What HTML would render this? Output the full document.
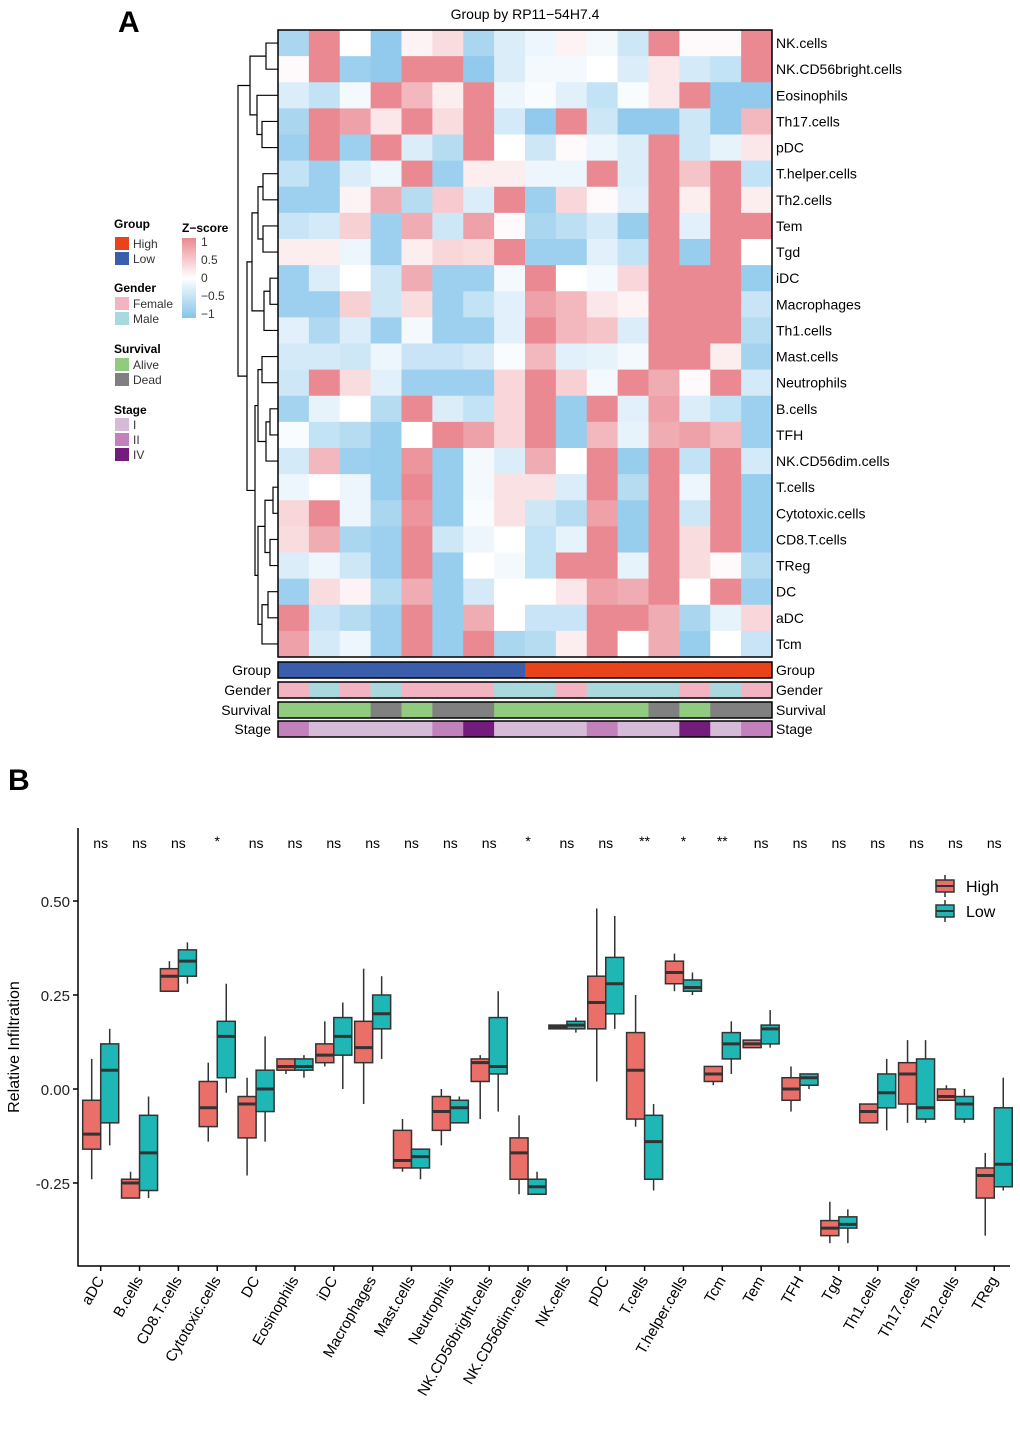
<!DOCTYPE html>
<html><head><meta charset="utf-8"><style>
body{margin:0;background:#fff;}
svg{display:block;font-family:"Liberation Sans",Arial,sans-serif;}
</style></head><body>
<svg id="fig" width="1020" height="1433" viewBox="0 0 1020 1433">
<text x="118" y="32" font-size="30" font-weight="bold">A</text>
<text x="525" y="19" font-size="14" text-anchor="middle">Group by RP11−54H7.4</text>
<g id="heat"></g>
<g id="dendro"></g>
<g id="annot"></g>
<g id="legendA"></g>
<text x="8" y="790" font-size="30" font-weight="bold">B</text>
<g id="boxplot"></g>
</svg>
<script>
const rowNames=["NK.cells","NK.CD56bright.cells","Eosinophils","Th17.cells","pDC","T.helper.cells","Th2.cells","Tem","Tgd","iDC","Macrophages","Th1.cells","Mast.cells","Neutrophils","B.cells","TFH","NK.CD56dim.cells","T.cells","Cytotoxic.cells","CD8.T.cells","TReg","DC","aDC","Tcm"];
const zscores=[
[-0.7,1,0,-0.9,0.1,0.3,-0.7,-0.3,-0.15,0.1,-0.1,-0.4,1,0.05,0.05,1],
[0.05,1,-0.8,-0.9,1,1,-0.9,-0.3,-0.1,-0.1,0,-0.3,0.2,-0.35,-0.5,1],
[-0.3,-0.5,-0.1,1,0.6,0.15,1,-0.15,-0.05,-0.25,-0.5,-0.05,0.2,1,-0.9,-0.9],
[-0.7,1,0.8,0.2,1,0.3,1,-0.35,-0.9,1,-0.4,-0.9,-0.9,-0.4,-0.9,0.6],
[-0.8,1,-0.8,1,-0.3,-0.6,1,0,-0.4,0.05,-0.15,-0.3,1,-0.4,-0.2,0.2],
[-0.5,-0.8,-0.3,-0.15,1,-0.8,0.15,0.15,-0.15,-0.15,1,-0.3,1,0.5,1,-0.5],
[-0.8,-0.8,0.1,0.7,-0.6,0.45,-0.3,1,-0.8,0.35,0.05,-0.25,1,0.15,1,0.15],
[-0.45,-0.35,0.4,-0.8,0.7,-0.4,0.8,0.05,-0.7,-0.55,-0.35,-0.85,1,-0.25,1,1],
[0.15,0.15,-0.15,-0.8,0.15,0.35,0.3,1,-0.8,-0.8,-0.25,-0.5,1,-0.85,1,0],
[-0.8,-0.3,0,-0.4,0.7,-0.8,-0.8,-0.1,1,0,-0.1,0.35,1,1,1,-0.85],
[-0.8,-0.8,0.4,-0.4,0.3,-0.8,-0.5,-0.25,0.8,0.6,0.2,0.1,1,1,1,-0.45],
[-0.25,-0.65,-0.3,-0.8,-0.1,-0.8,-0.8,-0.25,1,0.6,0.5,-0.3,1,1,1,-0.6],
[-0.35,-0.35,-0.4,-0.15,-0.45,-0.45,-0.35,-0.05,0.6,-0.25,-0.2,-0.1,1,1,0.15,-0.75],
[-0.4,1,0.3,-0.25,-0.8,-0.8,-0.8,0.35,1,0.4,-0.1,1,0.7,0.05,1,-0.35],
[-0.75,-0.2,0,-0.6,1,-0.3,-0.5,0.35,1,-0.85,1,-0.25,0.8,-0.3,-0.5,-0.8],
[-0.05,-0.5,-0.6,-0.85,0,1,0.8,0.35,1,-0.85,0.6,-0.2,0.7,0.8,0.6,-0.8],
[-0.35,0.6,-0.8,-0.85,0.9,-0.85,-0.1,-0.3,0.7,0,1,-0.85,1,-0.5,1,-0.35],
[-0.15,0,-0.15,-0.85,1,-0.85,-0.1,0.25,0.25,-0.3,1,-0.6,1,-0.15,1,-0.85],
[0.35,1,-0.15,-0.7,0.9,-0.85,-0.05,0.25,-0.4,-0.6,0.8,-0.85,1,-0.4,1,-0.85],
[0.3,0.7,-0.7,-0.8,1,-0.4,-0.15,0,-0.5,-0.2,1,-0.85,1,0.3,1,-0.85],
[-0.3,-0.15,-0.4,-0.8,1,-0.85,0,-0.1,-0.5,1,1,-0.2,1,0.3,0.05,-0.6],
[-0.8,0.3,0.1,-0.6,0.7,-0.85,-0.35,0,0,0.2,0.8,0.7,1,0,1,-0.8],
[1,-0.45,-0.6,-0.8,1,-0.85,0.7,0,-0.45,-0.45,1,1,0.7,-0.7,-0.2,0.35],
[0.8,-0.35,-0.15,-0.8,1,-0.85,1,-0.7,-0.6,0.15,1,0,0.7,-0.85,0,-0.45]];
const groupAnn=["Low","Low","Low","Low","Low","Low","Low","Low","High","High","High","High","High","High","High","High"];
const genderAnn=["Female","Male","Female","Male","Female","Female","Female","Male","Male","Female","Male","Male","Male","Female","Male","Female"];
const survivalAnn=["Alive","Alive","Alive","Dead","Alive","Dead","Dead","Alive","Alive","Alive","Alive","Alive","Dead","Alive","Dead","Dead"];
const stageAnn=["II","I","I","I","I","II","IV","I","I","I","II","I","I","IV","I","II"];

const NS="http://www.w3.org/2000/svg";
function mk(tag,attrs,parent,txt){const e=document.createElementNS(NS,tag);for(const k in attrs)e.setAttribute(k,attrs[k]);if(txt!==undefined)e.textContent=txt;parent.appendChild(e);return e;}
function zcol(v){v=Math.max(-1,Math.min(1,v));let c=v>=0?[234,137,146]:[133,196,234];const t=Math.abs(v);
return `rgb(${Math.round(255+(c[0]-255)*t)},${Math.round(255+(c[1]-255)*t)},${Math.round(255+(c[2]-255)*t)})`;}
const HX0=278,HX1=772,HY0=30,HY1=657;
const cw=(HX1-HX0)/16,rh=(HY1-HY0)/rowNames.length;
const colX=j=>HX0+j*cw, rowY=i=>HY0+i*rh;
const heat=document.getElementById('heat');
zscores.forEach((row,i)=>{row.forEach((v,j)=>{
 const r=mk('rect',{x:colX(j),y:rowY(i),width:cw+0.5,height:rh+0.5,fill:zcol(v)},heat);
 
 
});
 const t=mk('text',{x:776,y:rowY(i)+rh/2+5,'font-size':14},heat,rowNames[i]);
 
 
});
mk('rect',{x:HX0,y:HY0,width:HX1-HX0,height:HY1-HY0,fill:'none',stroke:'#000','stroke-width':1.5},heat);

// dendrogram
const tree=[[[0,1,266],[2,[3,4,262],257],250],[[[[5,6,263],[7,8,263],258],[[9,10,270],11,264],252],[[[12,13,262],[[14,15,270],16,266],258],[[[17,18,273],[19,20,270],265],[[21,22,268],23,262],258],255],247],238];
const dg=document.getElementById('dendro');
function draw(n){if(typeof n==='number')return{x:HX0,y:rowY(n)+rh/2};
 const a=draw(n[0]),b=draw(n[1]),x=n[2];
 mk('path',{d:`M${a.x},${a.y}H${x}V${b.y}H${b.x}`,fill:'none',stroke:'#000','stroke-width':1.2},dg);
 return{x:x,y:(a.y+b.y)/2};}
draw(tree);

// annotations
const annColors={High:'#E8431B',Low:'#3A5EAB',Female:'#F2B4C1',Male:'#A9D9DC',Alive:'#90CB7F',Dead:'#808080',I:'#D6BBD8',II:'#C281BA',IV:'#741C7B'};
const annRows=[["Group",groupAnn,662],["Gender",genderAnn,682],["Survival",survivalAnn,702],["Stage",stageAnn,721]];
const an=document.getElementById('annot');
annRows.forEach(([nm,arr,y])=>{
 arr.forEach((v,j)=>{const r=mk('rect',{x:colX(j),y:y,width:cw+0.5,height:16,fill:annColors[v]},an);
  
  });
 mk('rect',{x:HX0,y:y,width:HX1-HX0,height:16,fill:'none',stroke:'#000','stroke-width':1.5},an);
 mk('text',{x:271,y:y+13,'font-size':14,'text-anchor':'end'},an,nm);
 mk('text',{x:776,y:y+13,'font-size':14},an,nm);
});

// legend A
const lg=document.getElementById('legendA');
const legSpec=[["Group",228,[["High",247],["Low",262]]],["Gender",292,[["Female",307],["Male",322]]],["Survival",353,[["Alive",368],["Dead",383]]],["Stage",414,[["I",428],["II",443],["IV",458]]]];
legSpec.forEach(([t,y,items])=>{mk('text',{x:114,y:y,'font-size':12,'font-weight':'bold'},lg,t);
 items.forEach(([k,yy])=>{mk('rect',{x:115,y:yy-10,width:14,height:13,fill:annColors[k]},lg);mk('text',{x:133,y:yy+1,'font-size':12,fill:'#333'},lg,k);});});
const defs=mk('defs',{},lg);const gr=mk('linearGradient',{id:'zg',x1:0,y1:0,x2:0,y2:1},defs);
mk('stop',{offset:'0',"stop-color":zcol(1)},gr);mk('stop',{offset:'0.5',"stop-color":'#fff'},gr);mk('stop',{offset:'1',"stop-color":zcol(-1)},gr);
mk('text',{x:182,y:232,'font-size':12,'font-weight':'bold'},lg,'Z−score');
mk('rect',{x:182,y:238,width:14,height:80,fill:'url(#zg)'},lg);
[["1",242],["0.5",260],["0",278],["−0.5",296],["−1",314]].forEach(([t,y])=>mk('text',{x:201,y:y+4,'font-size':12,fill:'#333'},lg,t));

// boxplot B
const cats=["aDC","B.cells","CD8.T.cells","Cytotoxic.cells","DC","Eosinophils","iDC","Macrophages","Mast.cells","Neutrophils","NK.CD56bright.cells","NK.CD56dim.cells","NK.cells","pDC","T.cells","T.helper.cells","Tcm","Tem","TFH","Tgd","Th1.cells","Th17.cells","Th2.cells","TReg"];
const sigLabels=["ns","ns","ns","*","ns","ns","ns","ns","ns","ns","ns","*","ns","ns","**","*","**","ns","ns","ns","ns","ns","ns","ns"];
// [min,q1,median,q3,max]
const highStats=[[-0.24,-0.16,-0.12,-0.03,0.08],[-0.29,-0.29,-0.25,-0.24,-0.22],[0.26,0.26,0.30,0.32,0.34],[-0.14,-0.10,-0.05,0.02,0.07],[-0.23,-0.13,-0.04,-0.02,0.03],[0.04,0.05,0.06,0.08,0.08],[0.06,0.07,0.09,0.12,0.18],[-0.04,0.07,0.11,0.18,0.32],[-0.22,-0.21,-0.19,-0.11,-0.08],[-0.15,-0.11,-0.06,-0.02,0.0],[-0.08,0.02,0.07,0.08,0.09],[-0.28,-0.24,-0.17,-0.13,-0.07],[0.16,0.16,0.165,0.17,0.17],[0.02,0.16,0.23,0.30,0.48],[-0.10,-0.08,0.05,0.15,0.25],[0.26,0.28,0.31,0.34,0.36],[0.01,0.02,0.04,0.06,0.06],[0.11,0.11,0.12,0.13,0.13],[-0.06,-0.03,0.0,0.03,0.06],[-0.41,-0.39,-0.37,-0.35,-0.30],[-0.09,-0.09,-0.06,-0.04,-0.04],[-0.09,-0.04,0.04,0.07,0.13],[-0.03,-0.03,-0.02,0.0,0.01],[-0.39,-0.29,-0.23,-0.21,-0.17]];
const lowStats=[[-0.15,-0.09,0.05,0.12,0.16],[-0.29,-0.27,-0.17,-0.07,-0.02],[0.28,0.30,0.34,0.37,0.39],[-0.01,0.03,0.14,0.18,0.28],[-0.14,-0.06,0.0,0.05,0.14],[0.03,0.05,0.06,0.08,0.09],[0.0,0.09,0.14,0.19,0.23],[0.08,0.16,0.20,0.25,0.30],[-0.24,-0.21,-0.18,-0.16,-0.16],[-0.09,-0.09,-0.05,-0.03,-0.02],[-0.06,0.04,0.06,0.19,0.26],[-0.28,-0.28,-0.26,-0.24,-0.22],[0.15,0.16,0.17,0.18,0.19],[0.16,0.20,0.28,0.35,0.46],[-0.27,-0.24,-0.14,-0.07,-0.04],[0.25,0.26,0.27,0.29,0.31],[0.04,0.08,0.12,0.15,0.18],[0.11,0.12,0.16,0.17,0.21],[0.0,0.01,0.03,0.04,0.04],[-0.41,-0.37,-0.36,-0.34,-0.32],[-0.11,-0.05,-0.01,0.04,0.08],[-0.09,-0.08,-0.05,0.08,0.13],[-0.09,-0.08,-0.04,-0.02,0.0],[-0.27,-0.26,-0.20,-0.05,0.03]];
const yTicks=[0.5,0.25,0,-0.25];
const yTickLabels=["0.50","0.25","0.00","-0.25"];
const bp=document.getElementById('boxplot');
const yS=v=>1089-v*376;
const xS=i=>100.7+i*38.85;
const BW=18;
mk('path',{d:'M78,828V1266H1010',fill:'none',stroke:'#000','stroke-width':1.5},bp);
yTicks.forEach((v,k)=>{mk('line',{x1:73,x2:78,y1:yS(v),y2:yS(v),stroke:'#000','stroke-width':1.5},bp);
 const t=mk('text',{x:70,y:yS(v)+6,'font-size':15,'text-anchor':'end',fill:'#222'},bp,yTickLabels[k]);
 
 });
const yt=mk('text',{x:19,y:1047,'font-size':16,'text-anchor':'middle',transform:'rotate(-90 19 1047)'},bp,'Relative Infiltration');


function box(st,x0,fill){
 const g=mk('g',{},bp);
 mk('line',{x1:x0+BW/2,x2:x0+BW/2,y1:yS(st[0]),y2:yS(st[4]),stroke:'#333','stroke-width':1.5},g);
 mk('rect',{x:x0,y:yS(st[3]),width:BW,height:Math.max(1,yS(st[1])-yS(st[3])),fill:fill,stroke:'#333','stroke-width':1.5},g);
 mk('line',{x1:x0,x2:x0+BW,y1:yS(st[2]),y2:yS(st[2]),stroke:'#333','stroke-width':3},g);
 return g;}
cats.forEach((c,i)=>{const cx=xS(i);
 const h=box(highStats[i],cx-BW,'#EA6F68');
 
 
 const l=box(lowStats[i],cx,'#1FB6B6');
 
 
 mk('line',{x1:cx,x2:cx,y1:1266,y2:1271,stroke:'#000','stroke-width':1.5},bp);
 const t=mk('text',{x:cx+4,y:1280,'font-size':15,'text-anchor':'end',transform:`rotate(-60 ${cx+4} 1280)`},bp,c);
 
 
 const s=mk('text',{x:cx,y:sigLabels[i]==='ns'?848:846,'font-size':14,'text-anchor':'middle'},bp,sigLabels[i]);
 
 
});
// legend B
[["High",'#EA6F68',886],["Low",'#1FB6B6',911]].forEach(([k,f,y])=>{
 const g=mk('g',{},bp);
 
 
 mk('line',{x1:945,x2:945,y1:y-11,y2:y+11,stroke:'#333','stroke-width':1.5},g);
 mk('rect',{x:936,y:y-6,width:18,height:12,fill:f,stroke:'#333','stroke-width':1.5},g);
 mk('line',{x1:936,x2:954,y1:y,y2:y,stroke:'#333','stroke-width':2},g);
 mk('text',{x:966,y:y+6,'font-size':16},g,k);});
</script>
</body></html>
